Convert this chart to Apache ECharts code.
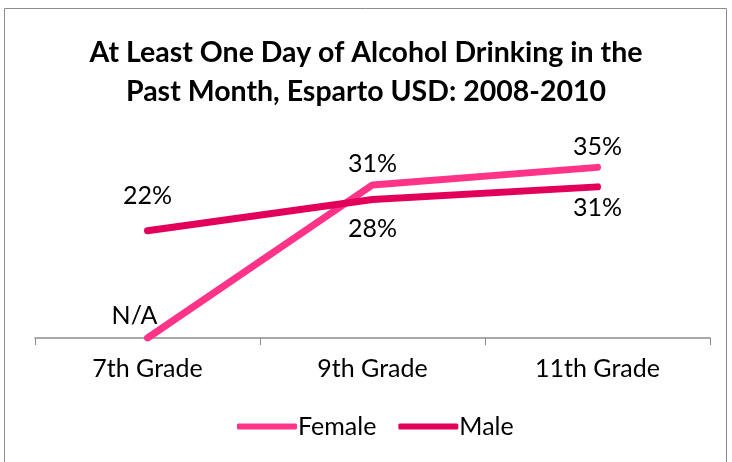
<!DOCTYPE html>
<html>
<head>
<meta charset="utf-8">
<script src="https://cdn.jsdelivr.net/npm/echarts@6/dist/echarts.min.js"></script>
<style>
  html, body { margin: 0; padding: 0; background: #fff; }
  #chart { width: 732px; height: 462px; }
</style>
</head>
<body>
<div id="chart"></div>
<script>
const grades = ['7th Grade', '9th Grade', '11th Grade']
const femaleValues = [0, 31.4, 35]
const maleValues = [22, 28.4, 31]
const femaleLabels = ['N/A', '31%', '35%']
const maleLabels = ['22%', '28%', '31%']

const FEMALE_COLOR = '#FF3388'
const MALE_COLOR = '#E2005A'
const FONT = 'Lato, "Open Sans", sans-serif'

const chart = echarts.init(document.getElementById('chart'))

const labelStyle = { color: '#000', fontSize: 25, fontFamily: FONT }

chart.setOption({
  animation: false,
  title: {
    text: 'At Least One Day of Alcohol Drinking in the\nPast Month, Esparto USD: 2008-2010',
    left: 'center',
    top: 28,
    textStyle: {
      color: '#000',
      fontSize: 28.5,
      fontWeight: 'bold',
      fontFamily: FONT,
      lineHeight: 39,
    },
  },
  graphic: [
    {
      type: 'rect',
      shape: { x: 4.5, y: 8.5, width: 722, height: 460 },
      style: { fill: 'none', stroke: '#8c8c8c', lineWidth: 1 },
      silent: true,
    },
  ],
  legend: {
    bottom: 18,
    left: 232,
    itemWidth: 60,
    itemHeight: 6,
    itemGap: 22,
    textStyle: { color: '#000', fontSize: 25, fontFamily: FONT, padding: [0, 0, 0, -4] },
    data: [
      { name: 'Female', icon: 'roundRect' },
      { name: 'Male', icon: 'roundRect' },
    ],
  },
  grid: { left: 35, right: 22, top: 143, bottom: 124 },
  xAxis: {
    type: 'category',
    data: grades,
    boundaryGap: true,
    axisLine: { lineStyle: { color: '#8c8c8c', width: 1.5 } },
    axisTick: { show: true, length: 7, lineStyle: { color: '#8c8c8c' } },
    axisLabel: { color: '#000', fontSize: 25, fontFamily: FONT, margin: 18 },
  },
  yAxis: {
    type: 'value',
    min: 0,
    max: 40,
    show: false,
    splitLine: { show: false },
  },
  series: [
    {
      name: 'Female',
      type: 'line',
      data: femaleValues.map((v, i) => ({
        value: v,
        label: {
          show: true,
          position: 'top',
          distance: i === 0 ? 10 : 8,
          offset: i === 0 ? [-13, 0] : [0, 0],
          formatter: femaleLabels[i],
          ...labelStyle,
        },
      })),
      symbol: 'circle',
      symbolSize: 0,
      showSymbol: true,
      lineStyle: { width: 7, color: FEMALE_COLOR, cap: 'round', join: 'round' },
      itemStyle: { color: FEMALE_COLOR },
      z: 3,
    },
    {
      name: 'Male',
      type: 'line',
      data: maleValues.map((v, i) => ({
        value: v,
        label: {
          show: true,
          position: i === 0 ? 'top' : 'bottom',
          distance: i === 0 ? 22 : (i === 1 ? 17 : 9),
          formatter: maleLabels[i],
          ...labelStyle,
        },
      })),
      symbol: 'circle',
      symbolSize: 0,
      showSymbol: true,
      lineStyle: { width: 7, color: MALE_COLOR, cap: 'round', join: 'round' },
      itemStyle: { color: MALE_COLOR },
      z: 4,
    },
  ],
})
</script>
</body>
</html>
